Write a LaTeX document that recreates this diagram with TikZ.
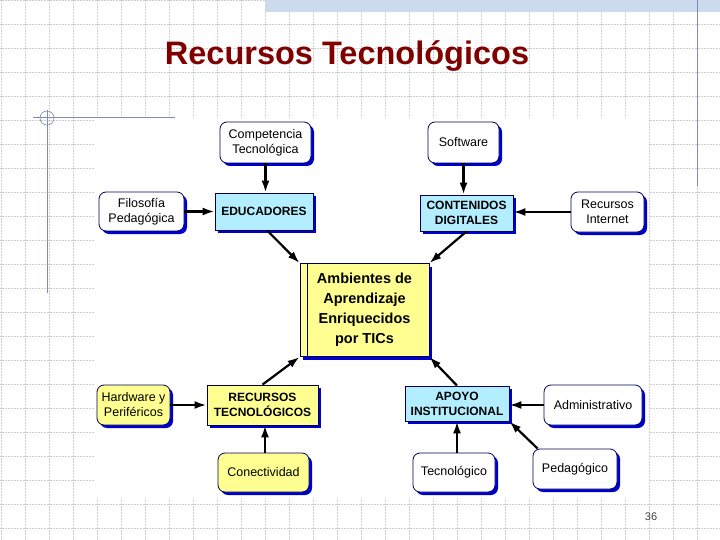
\documentclass[tikz,border=0pt]{standalone}
\usepackage{fontspec}
\setmainfont{Liberation Sans}
\usepackage{tikz}
\usetikzlibrary{
	arrows.meta,
	positioning,
	calc,
	shadows
}
\usepackage{xcolor}

\definecolor{titlered}{RGB}{128,0,0}
\definecolor{boxline}{RGB}{0,0,90}
\definecolor{shadowblue}{RGB}{0,0,205}
\definecolor{cyanfill}{RGB}{178,238,255}
\definecolor{yellowfill}{RGB}{255,255,145}
\definecolor{gridgray}{RGB}{205,205,210}
\definecolor{slideline}{RGB}{125,140,175}
\definecolor{bandblue}{RGB}{205,218,238}

\tikzset{
	box/.style={draw=boxline,line width=0.8pt,inner sep=0pt,align=center,
		drop shadow={shadow xshift=3pt,shadow yshift=-3pt,fill=shadowblue,opacity=1}},
	leaf/.style={box,rounded corners=7pt,fill=white,
		font=\fontsize{12.5}{15}\selectfont},
	hub/.style={box,font=\fontsize{12}{15}\selectfont\bfseries},
	link/.style={-{Latex[length=12pt,width=8pt]},line width=2.2pt}
}

\begin{document}
\begin{tikzpicture}[x=1pt,y=-1pt]
				
				\useasboundingbox (0,0) rectangle (720,540);
				
				% Slide background
				\foreach \x in {1,25,...,720}
				{
					\draw[gridgray,densely dotted,line width=0.5pt] (\x,0) -- (\x,540);
				}
				\foreach \y in {0,24,...,540}
				{
					\draw[gridgray,densely dotted,line width=0.5pt] (0,\y) -- (720,\y);
				}
				
				\fill[bandblue] (265,0) rectangle (720,12);
				\draw[slideline,line width=1pt] (697,0) -- (697,186);
				\draw[slideline,line width=1pt] (33,118) -- (175,118);
				\draw[slideline,line width=1pt] (47,110) -- (47,293);
				\draw[slideline,line width=0.6pt] (47,118) circle (7);
				
				\fill[white] (95,118) rectangle (649,498);
				
				\node[text=titlered,font=\fontsize{32.5}{36}\selectfont\bfseries] (title) at (347,56) {Recursos Tecnológicos};
				
				% Central node
				\node[box,fill=yellowfill,minimum width=129pt,minimum height=93pt,
					font=\fontsize{14.5}{20}\selectfont\bfseries] (amb) at (364.5,310)
					{Ambientes de\\Aprendizaje\\Enriquecidos\\por TICs};
				\draw[boxline,line width=0.8pt] ([xshift=8pt]amb.north west) -- ([xshift=8pt]amb.south west);
				
				% Upper left branch
				\node[hub,fill=cyanfill,minimum width=98pt,minimum height=37pt] (educ) at (264,211.5) {EDUCADORES};
				\node[leaf,minimum width=91pt,minimum height=41pt] (comp) at (265.5,142.5) {Competencia\\Tecnológica};
				\node[leaf,minimum width=85pt,minimum height=39pt] (filo) at (141.5,211.5) {Filosofía\\Pedagógica};
				
				% Upper right branch
				\node[hub,fill=cyanfill,minimum width=93pt,minimum height=36pt] (cont) at (466.5,213) {CONTENIDOS\\DIGITALES};
				\node[leaf,minimum width=71pt,minimum height=41pt] (soft) at (463.5,142.5) {Software};
				\node[leaf,minimum width=73pt,minimum height=40pt] (rint) at (607.5,212) {Recursos\\Internet};
				
				% Lower left branch
				\node[hub,fill=yellowfill,minimum width=111pt,minimum height=40pt] (rtec) at (262.5,405) {RECURSOS\\TECNOLÓGICOS};
				\node[leaf,fill=yellowfill,minimum width=73pt,minimum height=40pt] (hard) at (133.5,405) {Hardware y\\Periféricos};
				\node[leaf,fill=yellowfill,minimum width=91pt,minimum height=39pt] (conec) at (263.5,472.5) {Conectividad};
				
				% Lower right branch
				\node[hub,fill=cyanfill,minimum width=104pt,minimum height=35pt] (apoyo) at (457,403.5) {APOYO\\INSTITUCIONAL};
				\node[leaf,minimum width=98pt,minimum height=40pt] (admin) at (593,405) {Administrativo};
				\node[leaf,minimum width=82pt,minimum height=39pt] (tecno) at (454,472.5) {Tecnológico};
				\node[leaf,minimum width=84pt,minimum height=40pt] (peda) at (575,469) {Pedagógico};
				
				% Arrows
				\draw[link] (comp.south) -- (comp.south |- educ.north);
				\draw[link] (filo.east) -- (filo.east -| educ.west);
				\draw[link] (soft.south) -- (soft.south |- cont.north);
				\draw[link] (rint.west) -- (rint.west -| cont.east);
				\draw[link] (hard.east) -- (hard.east -| rtec.west);
				\draw[link] ([xshift=1.5pt]conec.north) -- ([xshift=1.5pt]conec.north |- rtec.south);
				\draw[link] (admin.west) -- (admin.west -| apoyo.east);
				\draw[link] (tecno.north -| apoyo) -- (apoyo.south);
				\draw[link] ([xshift=5pt]peda.north west) -- (apoyo.south east);
				
				\draw[link] ([xshift=3pt]educ.south) -- (amb.north west);
				\draw[link] (cont.south) -- (amb.north east);
				\draw[link] (rtec.north) -- (amb.south west);
				\draw[link] (apoyo.north) -- (amb.south east);
				
				\node[text=black!75,font=\fontsize{11}{13}\selectfont] (page) at (651,517) {36};
				
			\end{tikzpicture}
\end{document}
